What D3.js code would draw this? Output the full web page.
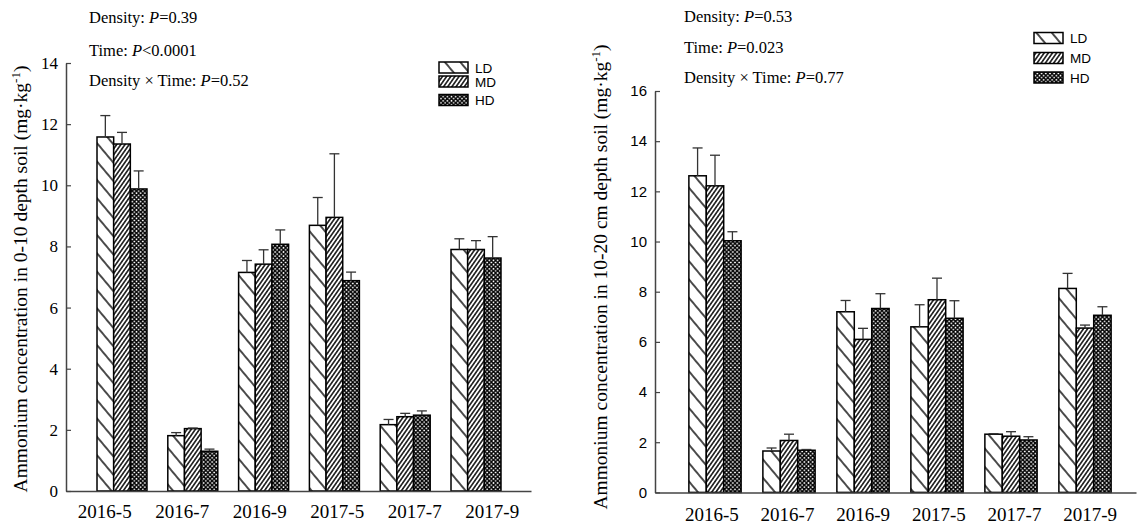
<!DOCTYPE html>
<html>
<head>
<meta charset="utf-8">
<script src="https://cdn.jsdelivr.net/npm/d3@7"></script>
<style>
  html, body { margin: 0; padding: 0; background: #fff; }
  svg { display: block; }
</style>
</head>
<body>
<script>
// Sampling dates and stand densities
const categories = ["2016-5", "2016-7", "2016-9", "2017-5", "2017-7", "2017-9"];
const densities = ["LD", "MD", "HD"];

// Ammonium (mg·kg-1), 0-10 cm layer: means and standard errors
const topLD = [11.58, 1.81, 7.15, 8.69, 2.17, 7.90];
const topMD = [11.35, 2.04, 7.42, 8.95, 2.43, 7.90];
const topHD = [9.88, 1.30, 8.07, 6.88, 2.48, 7.62];
const topLDErr = [0.70, 0.10, 0.39, 0.91, 0.17, 0.35];
const topMDErr = [0.38, 0.02, 0.47, 2.08, 0.11, 0.29];
const topHDErr = [0.59, 0.07, 0.47, 0.28, 0.14, 0.70];

// Ammonium (mg·kg-1), 10-20 cm layer: means and standard errors
const subLD = [12.62, 1.65, 7.20, 6.60, 2.32, 8.13];
const subMD = [12.22, 2.07, 6.10, 7.68, 2.24, 6.55];
const subHD = [10.03, 1.68, 7.33, 6.94, 2.09, 7.06];
const subLDErr = [1.11, 0.12, 0.45, 0.88, 0.02, 0.60];
const subMDErr = [1.22, 0.25, 0.44, 0.86, 0.18, 0.12];
const subHDErr = [0.36, 0.03, 0.59, 0.70, 0.13, 0.34];

// Y tick values
const topTicks = [0, 2, 4, 6, 8, 10, 12, 14];
const subTicks = [0, 2, 4, 6, 8, 10, 12, 14, 16];

// ANOVA results printed above each panel
const topStats = [
  ["Density: ", "P", "=0.39"],
  ["Time: ", "P", "<0.0001"],
  ["Density \u00d7 Time: ", "P", "=0.52"]
];
const subStats = [
  ["Density: ", "P", "=0.53"],
  ["Time: ", "P", "=0.023"],
  ["Density \u00d7 Time: ", "P", "=0.77"]
];

const SERIF = "'Liberation Serif', 'Times New Roman', serif";
const SANS = "'Liberation Sans', Arial, sans-serif";

const svg = d3.select("body").append("svg")
  .attr("width", 1139).attr("height", 524);

// Hatch fills
const defs = svg.append("defs");
const pLD = defs.append("pattern").attr("id", "pat-LD")
  .attr("patternUnits", "userSpaceOnUse")
  .attr("width", 10).attr("height", 11.8)
  .attr("patternTransform", "rotate(50)");
pLD.append("rect").attr("width", 10).attr("height", 11.8).attr("fill", "#fff");
pLD.append("line").attr("x1", 0).attr("x2", 10).attr("y1", 5.9).attr("y2", 5.9)
  .attr("stroke", "#000").attr("stroke-width", 1.4);

const pMD = defs.append("pattern").attr("id", "pat-MD")
  .attr("patternUnits", "userSpaceOnUse")
  .attr("width", 10).attr("height", 3.4)
  .attr("patternTransform", "rotate(-55)");
pMD.append("rect").attr("width", 10).attr("height", 3.4).attr("fill", "#fff");
pMD.append("line").attr("x1", 0).attr("x2", 10).attr("y1", 1.7).attr("y2", 1.7)
  .attr("stroke", "#000").attr("stroke-width", 1.45);

const pHD = defs.append("pattern").attr("id", "pat-HD")
  .attr("patternUnits", "userSpaceOnUse")
  .attr("width", 4.2).attr("height", 4.2);
pHD.append("rect").attr("width", 4.2).attr("height", 4.2).attr("fill", "#fff");
pHD.append("path").attr("d", "M0,0L4.2,4.2M4.2,0L0,4.2")
  .attr("stroke", "#000").attr("stroke-width", 1.35).attr("fill", "none");

function drawPanel(cfg) {
  const g = svg.append("g");
  const y = d3.scaleLinear().domain(cfg.yDomain).range([cfg.yBottom, cfg.yTop]);
  const x0 = d3.scaleBand().domain(categories).range(cfg.barRange)
    .paddingInner(0.294).paddingOuter(0.147);
  const x1 = d3.scaleBand().domain(densities).range([0, x0.bandwidth()]);
  const xLab = d3.scaleBand().domain(categories).range(cfg.labelRange);

  const rows = [];
  categories.forEach((c, i) => {
    densities.forEach((d, j) => {
      rows.push({ cat: c, dens: d, v: cfg.values[j][i], e: cfg.errors[j][i] });
    });
  });

  // Bars
  g.append("g").selectAll("rect").data(rows).join("rect")
    .attr("x", d => x0(d.cat) + x1(d.dens))
    .attr("y", d => y(d.v))
    .attr("width", x1.bandwidth())
    .attr("height", d => y(0) - y(d.v))
    .attr("fill", d => `url(#pat-${d.dens})`)
    .attr("stroke", "#000").attr("stroke-width", 1.5);

  // Error bars (upper half)
  const eb = g.append("g").attr("stroke", "#333").attr("stroke-width", 1.3);
  eb.selectAll("line.v").data(rows).join("line").attr("class", "v")
    .attr("x1", d => x0(d.cat) + x1(d.dens) + x1.bandwidth() / 2)
    .attr("x2", d => x0(d.cat) + x1(d.dens) + x1.bandwidth() / 2)
    .attr("y1", d => y(d.v)).attr("y2", d => y(d.v + d.e));
  eb.selectAll("line.c").data(rows).join("line").attr("class", "c")
    .attr("x1", d => x0(d.cat) + x1(d.dens) + x1.bandwidth() / 2 - 5)
    .attr("x2", d => x0(d.cat) + x1(d.dens) + x1.bandwidth() / 2 + 5)
    .attr("y1", d => y(d.v + d.e)).attr("y2", d => y(d.v + d.e));

  // Y axis with inward ticks
  const ya = g.append("g").attr("transform", `translate(${cfg.axisX},0)`)
    .call(d3.axisLeft(y).tickValues(cfg.ticks).tickFormat(d3.format("d"))
      .tickSizeInner(-5).tickSizeOuter(0).tickPadding(8));
  ya.attr("font-family", null);
  ya.select(".domain").attr("stroke", "#444").attr("stroke-width", 1.5);
  ya.selectAll(".tick line").attr("stroke", "#444").attr("stroke-width", 1.2);
  ya.selectAll(".tick text").attr("fill", "#000")
    .style("font-family", cfg.tickFont).style("font-size", cfg.tickSize + "px");

  // X axis line
  const xs = d3.scaleLinear().range([cfg.axisX, cfg.axisEnd]);
  const xa = g.append("g").attr("transform", `translate(0,${y(0)})`)
    .call(d3.axisBottom(xs).tickValues([]).tickSizeOuter(0));
  xa.select(".domain").attr("stroke", "#444").attr("stroke-width", 1.5);

  // Category labels
  g.append("g").selectAll("text").data(categories).join("text")
    .attr("x", d => xLab(d) + xLab.bandwidth() / 2)
    .attr("y", cfg.labelY)
    .attr("text-anchor", "middle")
    .style("font-family", SERIF).style("font-size", "19px")
    .text(d => d);

  // Y title
  const t = g.append("text")
    .attr("transform", `translate(${cfg.titleX},${cfg.titleY}) rotate(-90)`)
    .attr("text-anchor", "middle")
    .style("font-family", SERIF).style("font-size", "19.5px");
  t.append("tspan").text(cfg.title + " (mg\u00b7kg");
  t.append("tspan").attr("dy", -7).style("font-size", "13px").text("-1");
  t.append("tspan").attr("dy", 7).text(")");

  // ANOVA annotations
  cfg.stats.forEach((s, i) => {
    const tx = g.append("text").attr("x", cfg.statX).attr("y", cfg.statY[i])
      .style("font-family", SERIF).style("font-size", "16.5px");
    tx.append("tspan").text(s[0]);
    tx.append("tspan").style("font-style", "italic").text(s[1]);
    tx.append("tspan").text(s[2]);
  });

  // Legend
  densities.forEach((d, i) => {
    const cy = cfg.legendY[i];
    g.append("rect").attr("x", cfg.legendX).attr("y", cy - 5.5)
      .attr("width", 29).attr("height", 11)
      .attr("fill", `url(#pat-${d})`).attr("stroke", "#000").attr("stroke-width", 1.5);
    g.append("text").attr("x", cfg.legendX + 36).attr("y", cy + 5)
      .style("font-family", SANS).style("font-size", "13.5px").text(d);
  });
}

drawPanel({
  values: [topLD, topMD, topHD],
  errors: [topLDErr, topMDErr, topHDErr],
  yDomain: [0, 14], yBottom: 491, yTop: 63,
  ticks: topTicks, tickFont: SERIF, tickSize: 17,
  axisX: 66, axisEnd: 531,
  barRange: [86.6, 511.4], labelRange: [66, 531], labelY: 518,
  title: "Ammonium concentration in 0-10 depth soil",
  titleX: 27, titleY: 279,
  stats: topStats, statX: 89, statY: [23, 56, 86],
  legendX: 439, legendY: [67.5, 81.5, 100]
});

drawPanel({
  values: [subLD, subMD, subHD],
  errors: [subLDErr, subMDErr, subHDErr],
  yDomain: [0, 16], yBottom: 492.4, yTop: 91,
  ticks: subTicks, tickFont: SANS, tickSize: 15,
  axisX: 655, axisEnd: 1136,
  barRange: [678, 1122], labelRange: [674, 1128], labelY: 521,
  title: "Ammonium concentration in 10-20 cm depth soil",
  titleX: 607, titleY: 277,
  stats: subStats, statX: 684, statY: [22, 53, 83],
  legendX: 1034, legendY: [38, 58, 77.5]
});
</script>
</body>
</html>
